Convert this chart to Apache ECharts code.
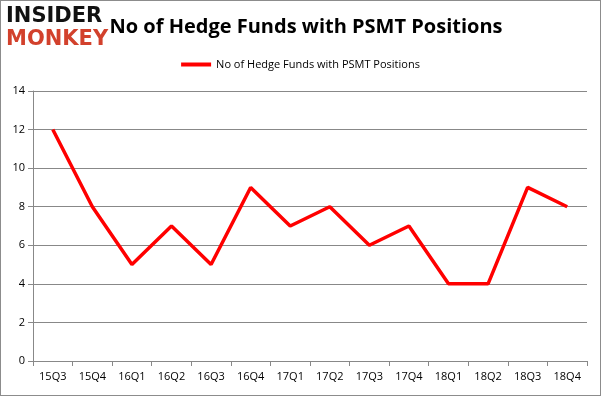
<!DOCTYPE html>
<html>
<head>
<meta charset="utf-8">
<script src="https://cdn.jsdelivr.net/npm/echarts@6/dist/echarts.min.js"></script>
<style>
  html, body { margin: 0; padding: 0; background: #fff; }
  #chart { width: 601px; height: 396px; box-sizing: border-box; border: 1px solid #8c8c8c; }
</style>
</head>
<body>
<div id="chart"></div>
<script>
const quarters = ['15Q3', '15Q4', '16Q1', '16Q2', '16Q3', '16Q4', '17Q1', '17Q2', '17Q3', '17Q4', '18Q1', '18Q2', '18Q3', '18Q4']
const funds = [12, 8, 5, 7, 5, 9, 7, 8, 6, 7, 4, 4, 9, 8]
const seriesName = 'No of Hedge Funds with PSMT Positions'

const chart = echarts.init(document.getElementById('chart'))

const font = '"Open Sans", "Liberation Sans", sans-serif'

chart.setOption({
  animation: false,
  textStyle: { fontFamily: font },
  title: {
    text: seriesName,
    left: 300,
    textAlign: 'center',
    top: 11,
    textStyle: { fontSize: 20, fontWeight: 'bold', color: '#000', fontFamily: font }
  },
  legend: {
    data: [seriesName],
    top: 53,
    left: 'center',
    itemWidth: 30,
    itemHeight: 4,
    icon: 'rect',
    textStyle: { fontSize: 11, color: '#000' }
  },
  grid: { left: 32, right: 13, top: 90, bottom: 34 },
  xAxis: {
    type: 'category',
    data: quarters,
    boundaryGap: true,
    axisLine: { lineStyle: { color: '#888', width: 1 } },
    axisTick: { show: true, alignWithLabel: false, length: 5, lineStyle: { color: '#888' } },
    axisLabel: { color: '#000', fontSize: 11, margin: 10 }
  },
  yAxis: {
    type: 'value',
    min: 0,
    max: 14,
    interval: 2,
    axisLine: { show: true, lineStyle: { color: '#888' } },
    axisTick: { show: true, length: 5, lineStyle: { color: '#888' } },
    axisLabel: { color: '#000', fontSize: 11, margin: 8 },
    splitLine: { lineStyle: { color: '#888', width: 1 } }
  },
  series: [{
    name: seriesName,
    type: 'line',
    data: funds,
    symbol: 'none',
    lineStyle: { color: '#ff0000', width: 3.5 },
    itemStyle: { color: '#ff0000' }
  }],
  graphic: [
    {
      type: 'text', left: 5, top: 5,
      style: { text: 'INSIDER', fill: '#111', font: '900 21px "DejaVu Sans", sans-serif' }
    },
    {
      type: 'text', left: 5, top: 28,
      style: { text: 'MONKEY', fill: '#d2412c', font: '900 21px "DejaVu Sans", sans-serif' }
    }
  ]
})
</script>
</body>
</html>
